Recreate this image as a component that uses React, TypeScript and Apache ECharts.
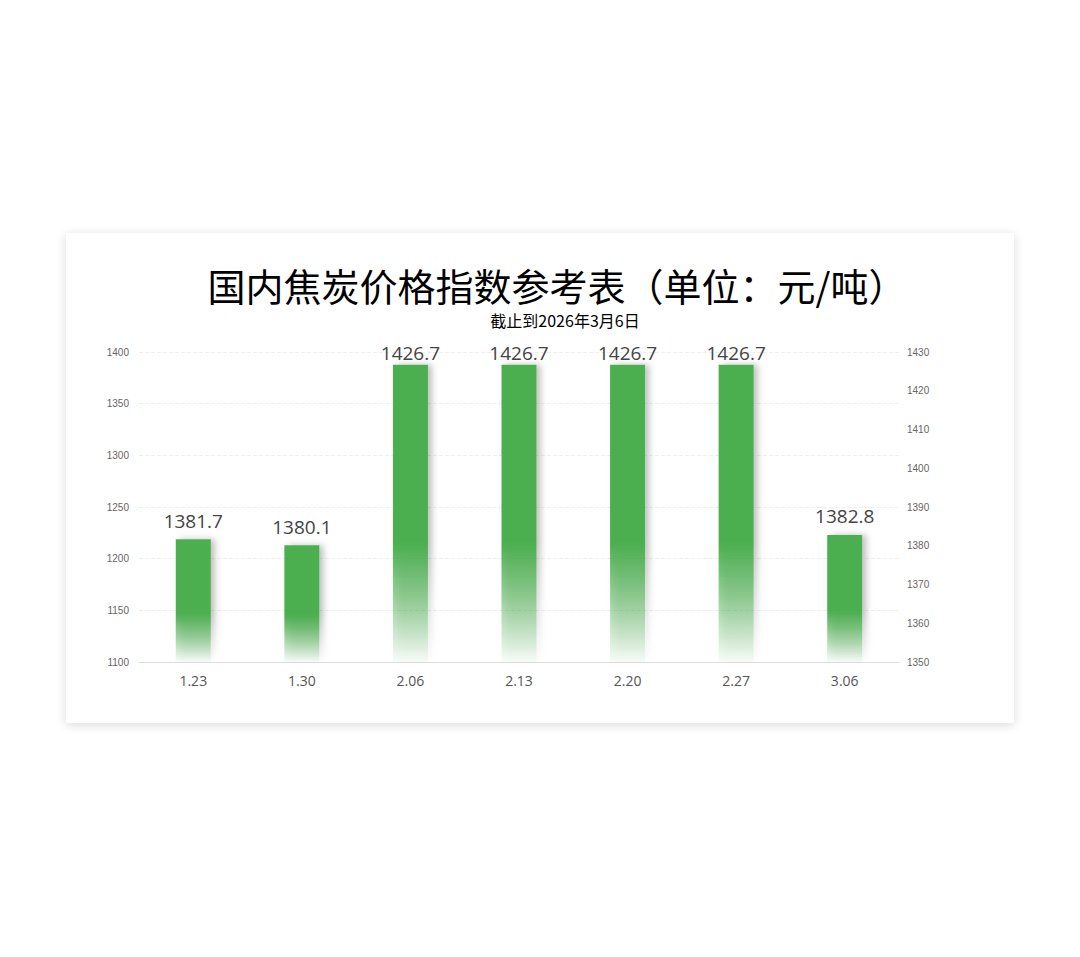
import React, { useEffect, useRef } from "react";
import * as echarts from "echarts";

const categories = ["1.23", "1.30", "2.06", "2.13", "2.20", "2.27", "3.06"];
const values = [1381.7, 1380.1, 1426.7, 1426.7, 1426.7, 1426.7, 1382.8];
const titleText = "国内焦炭价格指数参考表（单位：元/吨）";
const subtitleText = "截止到2026年3月6日";

export default function App() {
  const ref = useRef<HTMLDivElement>(null);
  useEffect(() => {
    if (!ref.current) return;
    const chart = echarts.init(ref.current, undefined, { renderer: "svg" });
    const barData = values.map((v) => ({
      value: v,
      label: { distance: v > 1420 ? 2 : 9 },
    }));
    chart.setOption({
      animation: false,
      title: [
        {
          text: titleText,
          left: 557,
          top: 265,
          padding: 0,
          textAlign: "center",
          textStyle: {
            fontSize: 38,
            lineHeight: 38,
            fontWeight: "normal",
            color: "#000",
            fontFamily: "Noto Sans CJK SC",
          },
        },
        {
          text: subtitleText,
          left: 565,
          top: 312,
          textAlign: "center",
          padding: 0,
          textStyle: {
            fontSize: 16,
            lineHeight: 16,
            fontWeight: "normal",
            color: "#000",
            fontFamily: "Noto Sans CJK SC",
          },
        },
      ],
      grid: { left: 139, top: 352, width: 760, height: 310 },
      xAxis: {
        type: "category",
        data: categories,
        axisTick: { show: false },
        axisLine: { lineStyle: { color: "#ddd" } },
        axisLabel: { color: "#555", fontSize: 14, margin: 11, fontFamily: "Open Sans" },
      },
      yAxis: [
        {
          type: "value",
          min: 1100,
          max: 1400,
          interval: 50,
          axisLine: { show: false },
          axisTick: { show: false },
          axisLabel: {
            color: "#666",
            fontSize: 10,
            margin: 10,
            fontFamily: "Liberation Sans",
            formatter: (v: number) => String(v),
          },
          splitLine: { lineStyle: { type: "dashed", color: "#eee" } },
        },
        {
          type: "value",
          min: 1350,
          max: 1430,
          interval: 10,
          position: "right",
          axisLine: { show: false },
          axisTick: { show: false },
          axisLabel: {
            color: "#666",
            fontSize: 10,
            margin: 8,
            fontFamily: "Liberation Sans",
            formatter: (v: number) => String(v),
          },
          splitLine: { show: false },
        },
      ],
      series: [
        {
          type: "bar",
          yAxisIndex: 1,
          data: barData,
          barWidth: 35,
          label: {
            show: true,
            position: "top",
            fontSize: 19,
            color: "#444",
            fontFamily: "Open Sans",
          },
          itemStyle: {
            color: new echarts.graphic.LinearGradient(0, 0, 0, 1, [
              { offset: 0, color: "#4caf50" },
              { offset: 0.6, color: "#4caf50" },
              { offset: 1, color: "rgba(76,175,80,0.03)" },
            ]),
            shadowColor: "rgba(0,0,0,0.25)",
            shadowBlur: 6,
            shadowOffsetX: 4,
            shadowOffsetY: 0,
          },
        },
      ],
    });
    return () => chart.dispose();
  }, []);
  return (
    <div style={{ position: "fixed", left: 0, top: 0, width: 1080, height: 957, background: "#fff" }}>
      <div
        style={{
          position: "absolute",
          left: 66,
          top: 233,
          width: 948,
          height: 490,
          background: "#fff",
          boxShadow: "0 2px 10px rgba(0,0,0,0.15)",
        }}
      />
      <div ref={ref} style={{ position: "absolute", left: 0, top: 0, width: 1080, height: 957 }} />
    </div>
  );
}
